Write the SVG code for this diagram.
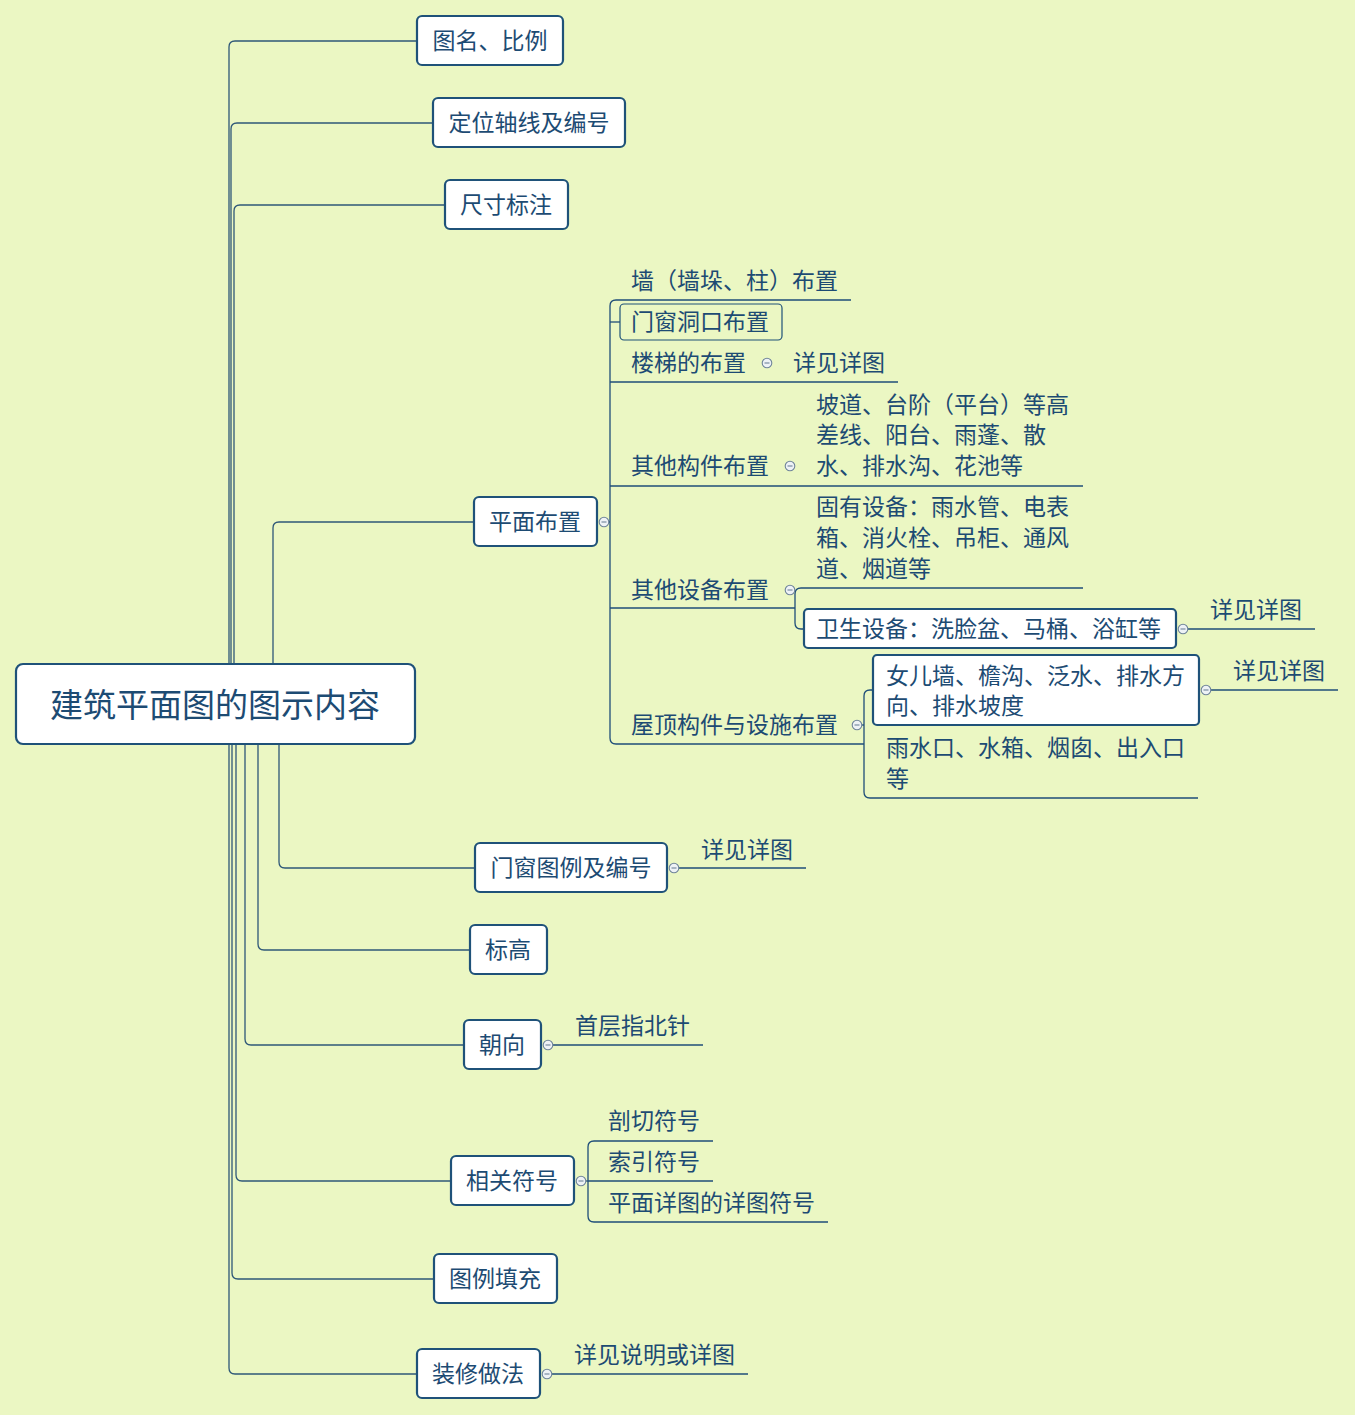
<svg xmlns="http://www.w3.org/2000/svg" width="1355" height="1415" viewBox="0 0 1355 1415">
<defs>
<style>
.bg{fill:#ebf7c3}
.node{fill:#ffffff;stroke:#1f5279;stroke-width:2.2}
.sub{fill:none;stroke:#1f5279;stroke-width:1.2}
.t{font-family:"Noto Sans CJK SC","Noto Sans",sans-serif;font-size:23px;fill:#1d4b73}
.tc{text-anchor:middle}
.root{font-size:33px}
.c{fill:none;stroke:#2f5878;stroke-width:1.3}
.u{fill:none;stroke:#1f4e79;stroke-width:1.3}
.cc{fill:#eef2f6;stroke:#6f8499;stroke-width:1.1}
.cm{stroke:#6f8499;stroke-width:1.1}
</style>
<g id="col">
<circle class="cc" cx="0" cy="0" r="4.8"/>
<line class="cm" x1="-2.5" y1="0" x2="2.5" y2="0"/>
</g>
</defs>
<rect class="bg" x="0" y="0" width="1355" height="1415"/>

<g id="connectors">
<path class="c" d="M229,664 V47 Q229,41 235,41 H417"/>
<path class="c" d="M231,664 V129 Q231,123 237,123 H433"/>
<path class="c" d="M234,664 V211 Q234,205 240,205 H445"/>
<path class="c" d="M273,664 V528 Q273,522 279,522 H474"/>
<path class="c" d="M279,744 V862 Q279,868 285,868 H475"/>
<path class="c" d="M258,744 V944 Q258,950 264,950 H470"/>
<path class="c" d="M245,744 V1039 Q245,1045 251,1045 H464"/>
<path class="c" d="M236,744 V1175 Q236,1181 242,1181 H451"/>
<path class="c" d="M232,744 V1273 Q232,1279 238,1279 H434"/>
<path class="c" d="M229,744 V1368 Q229,1374 235,1374 H417"/>

<path class="u" d="M608,522 H610"/>
<path class="u" d="M851,300 H616 Q610,300 610,306 V738 Q610,744 616,744 H864"/>
<path class="u" d="M610,322 H620"/>
<path class="u" d="M610,382 H898"/>
<path class="u" d="M610,486 H1083"/>
<path class="u" d="M610,608 H795"/>
<path class="u" d="M794,590 H795"/>
<path class="u" d="M1083,588 H801 Q795,588 795,594 V623 Q795,629 801,629 H804"/>
<path class="u" d="M1187,629 H1315"/>
<path class="u" d="M861,725 H864"/>
<path class="u" d="M873,690 H870 Q864,690 864,696 V792 Q864,798 870,798 H1198"/>
<path class="u" d="M1210,690 H1338"/>

<path class="u" d="M678,868 H806"/>
<path class="u" d="M552,1045 H703"/>
<path class="u" d="M585,1181 H588"/>
<path class="u" d="M713,1141 H594 Q588,1141 588,1147 V1216 Q588,1222 594,1222 H828"/>
<path class="u" d="M588,1181 H713"/>
<path class="u" d="M551,1374 H748"/>
</g>

<g id="root">
<rect class="node" x="16" y="664" width="399" height="80" rx="7"/>
<text class="t tc root" x="215" y="717">建筑平面图的图示内容</text>
</g>

<g id="n-tuming">
<rect class="node" x="417" y="16" width="146" height="49" rx="5"/>
<text class="t tc" x="490" y="49">图名、比例</text>
</g>
<g id="n-dingwei">
<rect class="node" x="433" y="98" width="192" height="49" rx="5"/>
<text class="t tc" x="529" y="131">定位轴线及编号</text>
</g>
<g id="n-chicun">
<rect class="node" x="445" y="180" width="123" height="49" rx="5"/>
<text class="t tc" x="506" y="213">尺寸标注</text>
</g>

<g id="n-pingmian">
<rect class="node" x="474" y="497" width="123" height="49" rx="5"/>
<text class="t tc" x="535" y="530">平面布置</text>
<use href="#col" x="604" y="522"/>
</g>
<g id="n-qiang">
<text class="t" x="631" y="289">墙（墙垛、柱）布置</text>
</g>
<g id="n-menchuang-dong">
<rect class="sub" x="620" y="304" width="162" height="36" rx="4"/>
<text class="t" x="631" y="330">门窗洞口布置</text>
</g>
<g id="n-louti">
<text class="t" x="631" y="371">楼梯的布置</text>
<use href="#col" x="767" y="363"/>
</g>
<g id="n-louti-xq">
<text class="t" x="793" y="371">详见详图</text>
</g>
<g id="n-qitagoujian">
<text class="t" x="631" y="474">其他构件布置</text>
<use href="#col" x="790" y="466"/>
</g>
<g id="n-podao">
<text class="t"><tspan x="816" y="413">坡道、台阶（平台）等高</tspan><tspan x="816" y="443">差线、阳台、雨蓬、散</tspan><tspan x="816" y="474">水、排水沟、花池等</tspan></text>
</g>
<g id="n-qitashebei">
<text class="t" x="631" y="598">其他设备布置</text>
<use href="#col" x="790" y="590"/>
</g>
<g id="n-guyou">
<text class="t"><tspan x="816" y="515">固有设备：雨水管、电表</tspan><tspan x="816" y="546">箱、消火栓、吊柜、通风</tspan><tspan x="816" y="577">道、烟道等</tspan></text>
</g>
<g id="n-weisheng">
<rect class="node" x="804" y="609" width="372" height="39" rx="4"/>
<text class="t" x="816" y="637">卫生设备：洗脸盆、马桶、浴缸等</text>
<use href="#col" x="1183" y="629"/>
</g>
<g id="n-weisheng-xq">
<text class="t" x="1210" y="618">详见详图</text>
</g>
<g id="n-wuding">
<text class="t" x="631" y="733">屋顶构件与设施布置</text>
<use href="#col" x="857" y="725"/>
</g>
<g id="n-nverqiang">
<rect class="node" x="873" y="655" width="326" height="70" rx="4"/>
<text class="t"><tspan x="886" y="684">女儿墙、檐沟、泛水、排水方</tspan><tspan x="886" y="714">向、排水坡度</tspan></text>
<use href="#col" x="1206" y="690"/>
</g>
<g id="n-nverqiang-xq">
<text class="t" x="1233" y="679">详见详图</text>
</g>
<g id="n-yushuikou">
<text class="t"><tspan x="886" y="756">雨水口、水箱、烟囱、出入口</tspan><tspan x="886" y="787">等</tspan></text>
</g>

<g id="n-menchuang">
<rect class="node" x="475" y="843" width="192" height="49" rx="5"/>
<text class="t tc" x="571" y="876">门窗图例及编号</text>
<use href="#col" x="674" y="868"/>
</g>
<g id="n-menchuang-xq">
<text class="t" x="701" y="858">详见详图</text>
</g>
<g id="n-biaogao">
<rect class="node" x="470" y="925" width="77" height="49" rx="5"/>
<text class="t tc" x="508" y="958">标高</text>
</g>
<g id="n-chaoxiang">
<rect class="node" x="464" y="1020" width="77" height="49" rx="5"/>
<text class="t tc" x="502" y="1053">朝向</text>
<use href="#col" x="548" y="1045"/>
</g>
<g id="n-zhibeizhen">
<text class="t" x="575" y="1034">首层指北针</text>
</g>
<g id="n-xiangguan">
<rect class="node" x="451" y="1156" width="123" height="49" rx="5"/>
<text class="t tc" x="512" y="1189">相关符号</text>
<use href="#col" x="581" y="1181"/>
</g>
<g id="n-pouqie">
<text class="t" x="608" y="1129">剖切符号</text>
</g>
<g id="n-suoyin">
<text class="t" x="608" y="1170">索引符号</text>
</g>
<g id="n-xiangtu">
<text class="t" x="608" y="1211">平面详图的详图符号</text>
</g>
<g id="n-tuli">
<rect class="node" x="434" y="1254" width="123" height="49" rx="5"/>
<text class="t tc" x="495" y="1287">图例填充</text>
</g>
<g id="n-zhuangxiu">
<rect class="node" x="417" y="1349" width="123" height="49" rx="5"/>
<text class="t tc" x="478" y="1382">装修做法</text>
<use href="#col" x="547" y="1374"/>
</g>
<g id="n-zhuangxiu-xq">
<text class="t" x="574" y="1363">详见说明或详图</text>
</g>
</svg>
